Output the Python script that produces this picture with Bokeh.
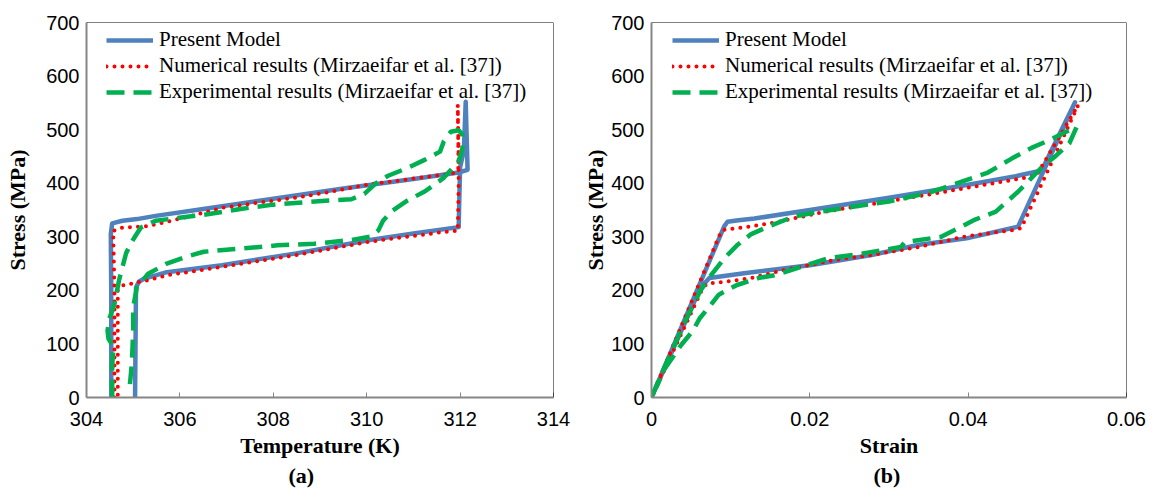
from bokeh.plotting import figure
from bokeh.layouts import row
from bokeh.models import Range1d, FixedTicker, Span, Legend, LegendItem, Title
from bokeh.embed import file_html
from bokeh.resources import INLINE

# ---------------- (a) stress vs temperature ----------------
model_T = [304.53, 304.53, 304.52, 304.55, 304.77, 305.08, 305.48, 306.5, 308.0, 309.5,
           311.0, 311.97, 312.16, 312.12, 312.08, 312.0, 311.98, 311.97, 311.0, 310.07,
           308.49, 306.9, 305.72, 305.24, 305.12, 305.06, 305.04]
model_S = [0, 200, 305, 325, 330, 333, 339, 352, 371, 390,
           408, 420, 425, 552, 460, 430, 360, 318, 306, 294,
           269, 247, 234, 222, 216, 205, 0]

num_T = [304.6, 304.6, 304.57, 304.77, 305.32, 306.11, 306.9, 307.69, 308.49, 309.28,
         310.07, 310.86, 311.65, 311.89, 311.97, 311.95, 311.97, 311.95, 311.65, 310.07,
         308.49, 306.9, 305.72, 305.32, 304.93, 304.77, 304.67, 304.67]
num_S = [0, 200, 311, 317, 320, 336, 354, 364, 373, 385,
         398, 407, 416, 419, 430, 546, 400, 311, 309, 291,
         266, 244, 228, 219, 212, 209, 200, 0]

exp_T = [304.55, 304.55, 304.58, 304.47, 304.45, 304.5, 304.6, 304.7, 304.85, 305.0,
         305.16, 305.48, 306.03, 306.59, 307.3, 308.0, 309.04, 309.67, 309.95, 310.2,
         310.46, 310.86, 311.25, 311.57, 311.65, 311.8, 311.97, 312.05, 312.05, 311.97,
         311.65, 311.25, 310.86, 310.54, 310.35, 310.25, 310.07, 309.67, 308.88, 308.09,
         307.3, 306.51, 306.11, 305.72, 305.32, 305.08, 305.0, 305.0, 304.97, 304.93]
exp_S = [0, 60, 94, 110, 125, 150, 175, 220, 270, 295,
         317, 330, 336, 342, 352, 360, 367, 370, 380, 400,
         414, 428, 444, 459, 478, 496, 499, 490, 465, 441,
         410, 385, 367, 348, 330, 312, 300, 294, 287, 284,
         278, 272, 262, 250, 231, 206, 169, 125, 62, 25]

temp_ticks = [304, 306, 308, 310, 312, 314]

# ---------------- (b) stress vs strain ----------------
model_e = [0, 0.0092, 0.0096, 0.011, 0.013, 0.02, 0.03, 0.04, 0.046, 0.0493,
           0.0535, 0.0463, 0.0398, 0.0338, 0.0278, 0.02, 0.0117, 0.0073, 0.0062, 0]
model_s = [0, 320, 328, 331, 334, 350, 373, 397, 413, 424,
           551, 319, 297, 285, 266, 247, 232, 223, 205, 0]

num_e = [0, 0.0085, 0.0089, 0.0095, 0.012, 0.0154, 0.022, 0.029, 0.0359, 0.044,
         0.0486, 0.0539, 0.0467, 0.0454, 0.0394, 0.0338, 0.0278, 0.0232, 0.0168, 0.0126,
         0.0094, 0.0071, 0.0065, 0]
num_s = [0, 300, 312, 314, 318, 326, 347, 364, 381, 402,
         414, 546, 316, 312, 300, 281, 266, 257, 238, 223,
         216, 213, 205, 0]

exp_e = [0, 0.001, 0.0025, 0.0045, 0.0062, 0.0075, 0.0092, 0.0108, 0.0126, 0.0149,
         0.018, 0.0205, 0.025, 0.03, 0.035, 0.039, 0.0425, 0.0455, 0.048, 0.0505,
         0.0525, 0.0537, 0.0528, 0.051, 0.0495, 0.0477, 0.0463, 0.0444, 0.0435, 0.0407,
         0.039, 0.0366, 0.032, 0.0315, 0.0255, 0.0223, 0.0158, 0.0135, 0.0108, 0.0085,
         0.0075, 0.0061, 0.0052, 0.0038, 0.0029, 0.0015, 0.0008, 0.0001]
exp_s = [0, 35, 85, 150, 200, 228, 260, 284, 305, 320,
         338, 345, 355, 366, 382, 402, 420, 446, 466, 482,
         497, 505, 475, 450, 433, 405, 384, 359, 347, 331,
         318, 300, 290, 281, 266, 260, 229, 223, 210, 192,
         173, 148, 124, 99, 80, 50, 25, 6]

strain_ticks = [0, 0.02, 0.04, 0.06]
stress_ticks = [0, 100, 200, 300, 400, 500, 600, 700]

series_names = ["Present Model",
                "Numerical results (Mirzaeifar et al. [37])",
                "Experimental results (Mirzaeifar et al. [37])"]

BLUE = "#4F81BD"
RED = "#FF0000"
GREEN = "#00B050"
GRAY = "#868686"


def make_panel(xs, ys, x_range, x_ticks, x_title, caption, borders, cap_offset,
               ylab_standoff, legend_x):
    left, right, top, bottom = borders
    p = figure(width=576, height=488, output_backend="svg", toolbar_location=None,
               x_range=Range1d(*x_range), y_range=Range1d(0, 700),
               min_border_left=left, min_border_right=right,
               min_border_top=top, min_border_bottom=bottom)
    p.outline_line_color = None
    p.grid.visible = False
    p.background_fill_color = "white"
    p.border_fill_color = "white"

    r1 = p.line(xs[0], ys[0], line_color=BLUE, line_width=4.5, line_join="round")
    r2 = p.line(xs[1], ys[1], line_color=RED, line_width=4, line_dash="0 8",
                line_cap="round", line_join="round")
    r3 = p.line(xs[2], ys[2], line_color=GREEN, line_width=4.5, line_dash="18 9",
                line_join="round")

    # frame border on top and right
    p.add_layout(Span(location=700, dimension="width", line_color="black", line_width=1))
    p.add_layout(Span(location=x_range[1], dimension="height", line_color="black", line_width=1))

    for ax in (p.xaxis, p.yaxis):
        ax.axis_line_color = GRAY
        ax.axis_line_width = 2
        ax.minor_tick_line_color = None
        ax.major_label_text_font = "Liberation Sans"
        ax.major_label_text_font_size = "20px"
        ax.major_label_text_color = "black"
        ax.axis_label_text_font = "Liberation Serif"
        ax.axis_label_text_font_style = "bold"
        ax.axis_label_text_font_size = "22px"
        ax.axis_label_text_color = "black"

    p.xaxis.ticker = FixedTicker(ticks=x_ticks)
    p.xaxis.major_tick_in = 5
    p.xaxis.major_tick_out = 0
    p.xaxis.major_tick_line_color = GRAY
    p.xaxis.major_label_standoff = 14
    p.xaxis.axis_label = x_title
    p.xaxis.axis_label_standoff = 4

    p.yaxis.ticker = FixedTicker(ticks=stress_ticks)
    p.yaxis.major_tick_in = 0
    p.yaxis.major_tick_out = 0
    p.yaxis.major_label_standoff = 7
    p.yaxis.axis_label = "Stress (MPa)"
    p.yaxis.axis_label_standoff = ylab_standoff

    legend = Legend(items=[LegendItem(label=series_names[0], renderers=[r1]),
                           LegendItem(label=series_names[1], renderers=[r2]),
                           LegendItem(label=series_names[2], renderers=[r3])],
                    location=(legend_x, 293), margin=0, padding=4, spacing=1,
                    glyph_width=47, glyph_height=20, label_height=20,
                    label_standoff=6, border_line_color=None,
                    background_fill_alpha=0,
                    label_text_font="Liberation Serif", label_text_font_size="21px",
                    label_text_color="black")
    p.add_layout(legend)

    # panel caption under the axis title
    p.add_layout(Title(text=caption, align="left", offset=cap_offset, standoff=0,
                       text_font="Liberation Serif", text_font_style="bold",
                       text_font_size="22px", text_color="black"), "below")
    return p


pa = make_panel([model_T, num_T, exp_T], [model_S, num_S, exp_S], (304, 314), temp_ticks,
                "Temperature (K)", "(a)", (86, 23, 21, 91), 202, 13, 20)
pb = make_panel([model_e, num_e, exp_e], [model_s, num_s, exp_s], (0, 0.06), strain_ticks,
                "Strain", "(b)", (75, 26, 22, 87), 222, 0, 21)
pb.xaxis.formatter.use_scientific = False

layout = row(pa, pb)
open("out.html", "w").write(file_html(layout, INLINE))
